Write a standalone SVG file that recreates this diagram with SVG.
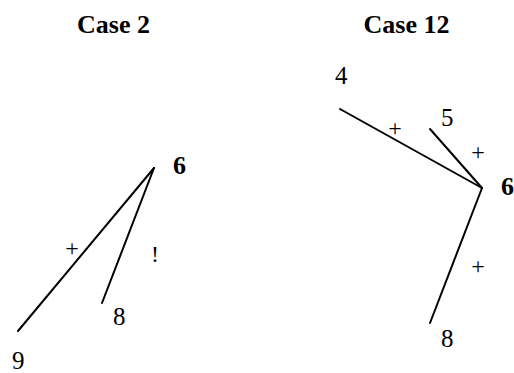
<svg xmlns="http://www.w3.org/2000/svg" width="514" height="373" viewBox="0 0 514 373">
<style>
text{font-family:"Liberation Serif","Times New Roman",serif;fill:#000}
.t{font-size:26px;font-weight:bold;text-anchor:middle}
.n{font-size:25px}
.b{font-size:26px;font-weight:bold}
.l{font-size:24px;text-anchor:middle}
line{stroke:#000;stroke-width:2;stroke-linecap:round}
</style>
<rect width="514" height="373" fill="#fff"/>
<text class="t" x="113.5" y="33">Case 2</text>
<text class="t" x="406.5" y="33">Case 12</text>
<g id="connectors">
<line x1="154" y1="168" x2="18" y2="331"/>
<line x1="154" y1="168" x2="102" y2="303"/>
<line x1="482" y1="188" x2="340" y2="109"/>
<line x1="482" y1="188" x2="430" y2="129"/>
<line x1="482" y1="188" x2="430" y2="323"/>
<text class="l" x="72" y="256">+</text>
<text class="l" x="155" y="262">!</text>
<text class="l" x="395" y="136">+</text>
<text class="l" x="478" y="160">+</text>
<text class="l" x="478" y="274">+</text>
</g>
<g id="n6a"><text class="b" x="173" y="174">6</text></g>
<g id="n8a"><text class="n" x="113" y="325">8</text></g>
<g id="n9"><text class="n" x="12" y="369">9</text></g>
<g id="n4"><text class="n" x="335" y="84">4</text></g>
<g id="n5"><text class="n" x="441" y="126">5</text></g>
<g id="n6b"><text class="b" x="501" y="195">6</text></g>
<g id="n8b"><text class="n" x="441" y="347">8</text></g>
</svg>
